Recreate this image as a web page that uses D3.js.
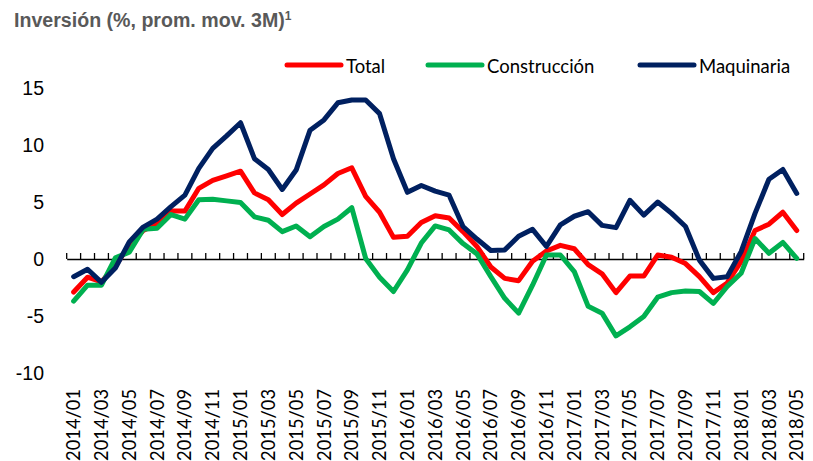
<!DOCTYPE html>
<html>
<head>
<meta charset="utf-8">
<script src="https://cdn.jsdelivr.net/npm/d3@7"></script>
<style>
  html, body { margin: 0; padding: 0; background: #fff; }
  svg { display: block; }
</style>
</head>
<body>
<svg id="chart" width="813" height="461"></svg>
<script>
// ---- Data ----
const months = [];
for (let y = 2014; y <= 2018; y++) {
  for (let m = 1; m <= 12; m++) {
    if (y === 2018 && m > 5) break;
    months.push(y + "/" + String(m).padStart(2, "0"));
  }
}
const tickLabels = months.filter((d, i) => i % 2 === 0);
const yTicks = [15, 10, 5, 0, -5, -10];

const total = [-2.9, -1.6, -2.0, -0.6, 1.2, 2.5, 3.1, 4.2, 4.2, 6.2, 6.9, 7.3, 7.7, 5.8, 5.2, 3.9,
  4.9, 5.7, 6.5, 7.5, 8.0, 5.5, 4.1, 1.9, 2.0, 3.2, 3.8, 3.6, 2.4, 1.1, -0.7, -1.7, -1.9, -0.2,
  0.7, 1.2, 0.9, -0.5, -1.3, -2.95, -1.5, -1.5, 0.35, 0.15, -0.4, -1.55, -2.95, -2.1, -0.2, 2.5,
  3.05, 4.1, 2.5];
const construccion = [-3.7, -2.3, -2.3, 0.1, 0.6, 2.6, 2.7, 3.9, 3.5, 5.2, 5.25, 5.1, 4.95, 3.7,
  3.4, 2.4, 2.9, 1.95, 2.85, 3.5, 4.5, 0.05, -1.6, -2.85, -0.95, 1.4, 2.9, 2.55, 1.35, 0.45,
  -1.55, -3.45, -4.75, -2.3, 0.35, 0.35, -1.1, -4.15, -4.75, -6.75, -5.95, -5.05, -3.35, -2.95,
  -2.8, -2.85, -3.9, -2.4, -1.25, 1.8, 0.5, 1.45, 0.05];
const maquinaria = [-1.55, -0.9, -2.05, -0.8, 1.5, 2.8, 3.5, 4.6, 5.6, 7.95, 9.7, 10.8, 11.95,
  8.8, 7.85, 6.1, 7.8, 11.3, 12.2, 13.7, 13.95, 13.95, 12.75, 8.8, 5.85, 6.45, 5.95, 5.6, 2.85,
  1.75, 0.75, 0.8, 2.0, 2.6, 1.1, 3.0, 3.75, 4.15, 2.95, 2.75, 5.15, 3.85, 5.0, 4.0, 2.85,
  -0.1, -1.7, -1.55, 0.65, 4.0, 7.0, 7.85, 5.75];

const seriesNames = ["Total", "Construcción", "Maquinaria"];
const seriesValues = [total, construccion, maquinaria];
const colors = ["#FF0000", "#00B050", "#002060"];

// ---- Chart ----
const svg = d3.select("#chart");

const x = d3.scaleBand().domain(months).range([66.7, 803.7]).padding(0);
const y = d3.scaleLinear().domain([-10, 15]).range([373, 88]);
const cx = d => x(d) + x.bandwidth() / 2;

// Title
const title = svg.append("text")
  .attr("x", 14).attr("y", 27)
  .attr("font-family", "Liberation Sans, Arial, sans-serif")
  .attr("font-weight", "bold")
  .attr("font-size", 19.6)
  .attr("fill", "#595959");
title.append("tspan").text("Inversión (%, prom. mov. 3M)");
title.append("tspan").attr("font-size", 12).attr("dy", -7).text("1");

// Y labels
svg.append("g").selectAll("text").data(yTicks).join("text")
  .attr("x", 44).attr("y", d => y(d))
  .attr("dy", "0.36em")
  .attr("text-anchor", "end")
  .attr("font-family", "Liberation Sans, Arial, sans-serif")
  .attr("font-size", 19.5)
  .attr("fill", "#000")
  .text(d => d);

// Zero axis with tick marks at category boundaries
const axisG = svg.append("g").attr("transform", `translate(0,${y(0)})`);
const axis = d3.axisTop(x).tickSizeInner(0).tickSizeOuter(0).tickFormat("");
axisG.call(axis);
axisG.select(".domain").attr("stroke", "#000").attr("stroke-width", 1.5);
axisG.selectAll(".tick").remove();
const boundaries = months.map(d => x(d)).concat([x.range()[1]]);
axisG.selectAll("line.tk").data(boundaries).join("line")
  .attr("class", "tk")
  .attr("x1", d => d).attr("x2", d => d)
  .attr("y1", 0).attr("y2", -6)
  .attr("stroke", "#000").attr("stroke-width", 1.3);

// X labels
svg.append("g").selectAll("text").data(tickLabels).join("text")
  .attr("transform", d => `translate(${cx(d)},389) rotate(-90)`)
  .attr("dy", "0.36em")
  .attr("text-anchor", "end")
  .attr("font-family", "Lato, sans-serif")
  .attr("font-size", 18.3)
  .attr("fill", "#000")
  .text(d => d);

// Lines
const line = d3.line().x((d, i) => cx(months[i])).y(d => y(d));
seriesValues.forEach((vals, k) => {
  svg.append("path")
    .datum(vals)
    .attr("d", line)
    .attr("fill", "none")
    .attr("stroke", colors[k])
    .attr("stroke-width", 5)
    .attr("stroke-linejoin", "round")
    .attr("stroke-linecap", "round");
});

// Legend
const legendPos = [287, 428, 640];
const lg = svg.append("g");
seriesNames.forEach((name, k) => {
  lg.append("line")
    .attr("x1", legendPos[k]).attr("x2", legendPos[k] + 54)
    .attr("y1", 65).attr("y2", 65)
    .attr("stroke", colors[k]).attr("stroke-width", 5)
    .attr("stroke-linecap", "round");
  lg.append("text")
    .attr("x", legendPos[k] + 59).attr("y", 66)
    .attr("dy", "0.36em")
    .attr("font-family", "Lato, sans-serif")
    .attr("font-size", 18.5)
    .attr("fill", "#000")
    .text(name);
});
</script>
</body>
</html>
